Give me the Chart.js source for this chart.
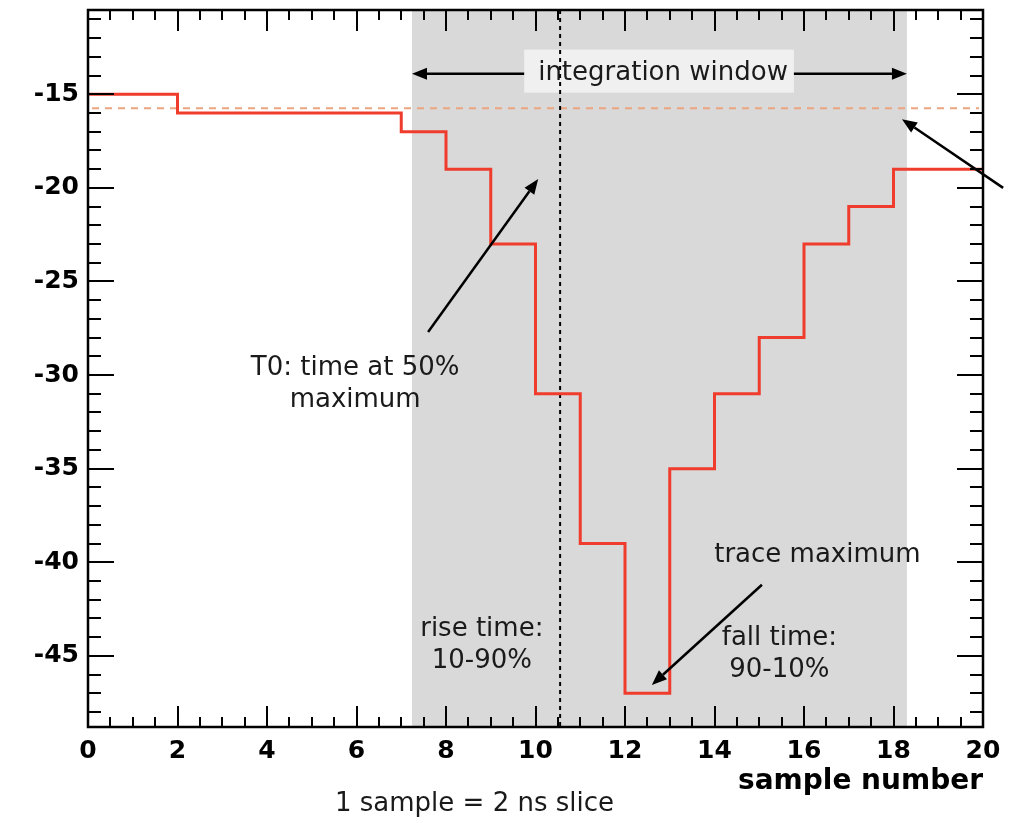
<!DOCTYPE html>
<html>
<head>
<meta charset="utf-8">
<script src="https://cdn.jsdelivr.net/npm/chart.js@4.4.1/dist/chart.umd.min.js"></script>
<style>
  html, body { margin: 0; padding: 0; background: #fff; }
  #wrap { width: 1015px; height: 823px; }
</style>
</head>
<body>
<div id="wrap"><canvas id="trace" width="1015" height="823"></canvas></div>
<script>
// bin start of each sample step and the ADC value of that step (last point closes the final bin)
const sampleEdges = [0, 2, 7, 8, 9, 10, 11, 12, 13, 14, 15, 16, 17, 18, 20];
const sampleValues = [-15, -16, -17, -19, -23, -31, -39, -47, -35, -31, -28, -23, -21, -19, -19];
const xTickLabels = [0, 2, 4, 6, 8, 10, 12, 14, 16, 18, 20];
const yTickLabels = [-15, -20, -25, -30, -35, -40, -45];

// markers
const windowRange = [7.24, 18.3];   // integration window
const t0Sample = 10.55;             // T0, vertical dotted line
const baselineLevel = -15.75;       // pedestal, dashed line

// annotation texts, in data coordinates
const notes = [
  { text: "T0: time at 50%", x: 5.97, y: -29.65 },
  { text: "maximum", x: 5.97, y: -31.35 },
  { text: "rise time:", x: 8.8, y: -43.6 },
  { text: "10-90%", x: 8.8, y: -45.3 },
  { text: "fall time:", x: 15.45, y: -44.05 },
  { text: "90-10%", x: 15.45, y: -45.75 },
  { text: "trace maximum", x: 16.3, y: -39.6 }
];
// arrows: from -> tip
const arrows = [
  { from: [7.6, -27.7], to: [10.06, -19.53] },
  { from: [20.45, -20.0], to: [18.19, -16.33] },
  { from: [15.06, -41.2], to: [12.6, -46.55] }
];
const windowLabel = { text: "integration window", x: 12.85, y: -13.9 };

const textFont = '26px "DejaVu Sans"';

function drawArrow(ctx, x0, y0, x1, y1) {
  const ang = Math.atan2(y1 - y0, x1 - x0);
  const head = 15, half = 6;
  const bx = x1 - head * Math.cos(ang), by = y1 - head * Math.sin(ang);
  ctx.beginPath();
  ctx.moveTo(x0, y0);
  ctx.lineTo(bx, by);
  ctx.stroke();
  ctx.beginPath();
  ctx.moveTo(x1, y1);
  ctx.lineTo(bx + half * Math.sin(ang), by - half * Math.cos(ang));
  ctx.lineTo(bx - half * Math.sin(ang), by + half * Math.cos(ang));
  ctx.closePath();
  ctx.fill();
}

// background: window shading, label box, dashed markers
const underlay = {
  id: "underlay",
  beforeDatasetsDraw(chart) {
    const { ctx, chartArea: a, scales: { x, y } } = chart;
    ctx.save();
    const w0 = x.getPixelForValue(windowRange[0]);
    const w1 = x.getPixelForValue(windowRange[1]);
    ctx.fillStyle = "#d9d9d9";
    ctx.fillRect(w0, a.top, w1 - w0, a.bottom - a.top);

    // integration window label and arrows
    ctx.font = textFont;
    const lx = x.getPixelForValue(windowLabel.x);
    const ly = y.getPixelForValue(windowLabel.y);
    const tw = ctx.measureText(windowLabel.text).width;
    const bl = lx - tw / 2 - 14, br = lx + tw / 2 + 6;
    ctx.fillStyle = "#f0f0f0";
    ctx.fillRect(bl, ly - 24, br - bl, 43);
    ctx.fillStyle = "#1a1a1a";
    ctx.textAlign = "center";
    ctx.textBaseline = "middle";
    ctx.fillText(windowLabel.text, lx, ly);
    ctx.strokeStyle = "#000";
    ctx.fillStyle = "#000";
    ctx.lineWidth = 2.5;
    drawArrow(ctx, bl, ly, w0, ly);
    drawArrow(ctx, br, ly, w1, ly);

    // pedestal line
    const py = y.getPixelForValue(baselineLevel);
    ctx.strokeStyle = "#eba57f";
    ctx.lineWidth = 2;
    ctx.setLineDash([7, 6]);
    ctx.beginPath();
    ctx.moveTo(a.left + 4, py);
    ctx.lineTo(a.right - 4, py);
    ctx.stroke();

    // T0 line
    const tx = x.getPixelForValue(t0Sample);
    ctx.strokeStyle = "#000";
    ctx.lineWidth = 2;
    ctx.setLineDash([4, 4]);
    ctx.beginPath();
    ctx.moveTo(tx, a.top);
    ctx.lineTo(tx, a.bottom);
    ctx.stroke();
    ctx.restore();
  }
};

// foreground: arrows, notes, inward ticks on four sides, frame, caption
const overlay = {
  id: "overlay",
  afterDraw(chart) {
    const { ctx, chartArea: a, scales: { x, y } } = chart;
    ctx.save();
    ctx.strokeStyle = "#000";
    ctx.fillStyle = "#000";
    ctx.lineWidth = 2.5;
    arrows.forEach(ar => {
      drawArrow(ctx, x.getPixelForValue(ar.from[0]), y.getPixelForValue(ar.from[1]),
        x.getPixelForValue(ar.to[0]), y.getPixelForValue(ar.to[1]));
    });

    ctx.font = textFont;
    ctx.fillStyle = "#1a1a1a";
    ctx.textAlign = "center";
    ctx.textBaseline = "middle";
    notes.forEach(n => ctx.fillText(n.text, x.getPixelForValue(n.x), y.getPixelForValue(n.y)));

    // caption under the axis
    ctx.fillText("1 sample = 2 ns slice", (a.left + a.right) / 2 - 61, a.bottom + 77);

    // ticks
    ctx.strokeStyle = "#000";
    ctx.lineWidth = 2;
    ctx.beginPath();
    for (let v = x.min; v <= x.max + 1e-9; v += 0.5) {
      const px = Math.round(x.getPixelForValue(v));
      const len = Math.abs(v % 2) < 1e-9 ? 21 : 10;
      ctx.moveTo(px, a.bottom); ctx.lineTo(px, a.bottom - len);
      ctx.moveTo(px, a.top); ctx.lineTo(px, a.top + len);
    }
    for (let v = Math.ceil(y.min); v <= y.max; v += 1) {
      const py = Math.round(y.getPixelForValue(v));
      const len = v % 5 === 0 ? 26 : 13;
      ctx.moveTo(a.left, py); ctx.lineTo(a.left + len, py);
      ctx.moveTo(a.right, py); ctx.lineTo(a.right - len, py);
    }
    ctx.stroke();
    ctx.lineWidth = 2.5;
    ctx.strokeRect(a.left, a.top, a.right - a.left, a.bottom - a.top);
    ctx.restore();
  }
};

const tickFont = { family: "DejaVu Sans", size: 25, weight: "bold" };

new Chart(document.getElementById("trace"), {
  type: "line",
  data: {
    datasets: [{
      data: sampleEdges.map((e, i) => ({ x: e, y: sampleValues[i] })),
      stepped: "before",
      borderColor: "#f03c2c",
      borderWidth: 3,
      pointRadius: 0,
      fill: false
    }]
  },
  options: {
    responsive: false,
    animation: false,
    layout: { padding: { top: 10, right: 32, left: 0, bottom: 0 } },
    plugins: { legend: { display: false }, tooltip: { enabled: false } },
    scales: {
      x: {
        type: "linear",
        min: 0,
        max: 20,
        afterBuildTicks: s => { s.ticks = xTickLabels.map(v => ({ value: v })); },
        afterFit: s => { s.height = 96; },
        grid: { display: false, drawTicks: false },
        border: { display: false },
        ticks: { font: tickFont, color: "#000", padding: 9, maxRotation: 0, autoSkip: false },
        title: {
          display: true,
          text: "sample number",
          align: "end",
          color: "#000",
          font: { family: "DejaVu Sans", size: 28, weight: "bold" },
          padding: { top: 0, bottom: 24 }
        }
      },
      y: {
        type: "linear",
        min: -48.8,
        max: -10.5,
        afterBuildTicks: s => { s.ticks = yTickLabels.map(v => ({ value: v })); },
        afterFit: s => { s.width = 88; s.paddingTop = 0; s.paddingBottom = 0; },
        grid: { display: false, drawTicks: false },
        border: { display: false },
        ticks: { font: tickFont, color: "#000", padding: 9 }
      }
    }
  },
  plugins: [underlay, overlay]
});
</script>
</body>
</html>
